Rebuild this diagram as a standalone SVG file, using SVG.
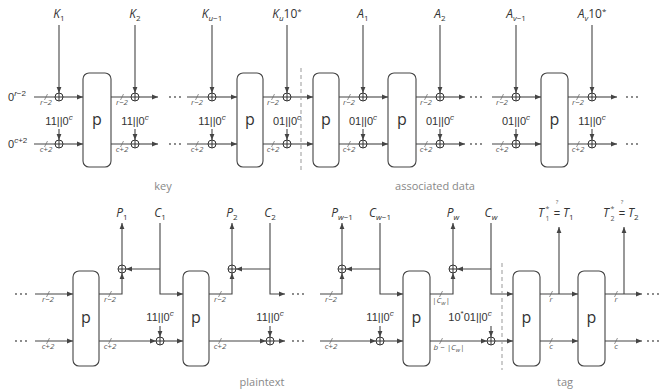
<svg xmlns="http://www.w3.org/2000/svg" xmlns:xlink="http://www.w3.org/1999/xlink" width="660" height="391" viewBox="0 0 660 391">
<style>
.ln{fill:none;stroke:#444;stroke-width:1.1}
.tk{fill:none;stroke:#666;stroke-width:0.7}
.dash{fill:none;stroke:#999;stroke-width:1;stroke-dasharray:4 3}
.box{fill:#fff;stroke:#444;stroke-width:1.1}
.v{font-family:"Open Sans","DejaVu Sans",sans-serif;font-style:italic;font-size:12px;fill:#333;text-anchor:middle}
.s{font-size:8px}
.n{font-style:normal}
.m{font-family:"Liberation Sans","DejaVu Sans",sans-serif;font-size:11px;fill:#333;text-anchor:middle}
.sm{font-family:"Open Sans","DejaVu Sans",sans-serif;font-style:italic;font-size:8px;fill:#555;text-anchor:middle}
.pt{font-family:"Open Sans","DejaVu Sans",sans-serif;font-size:16px;fill:#333;text-anchor:middle}
.cap{font-family:"Open Sans","DejaVu Sans",sans-serif;font-size:11px;fill:#888;text-anchor:middle}
.dots{fill:#555}
</style>
<defs>
<marker id="a" viewBox="0 0 6 6" refX="6" refY="3" markerWidth="6" markerHeight="6" orient="auto" markerUnits="userSpaceOnUse"><path d="M0,0.6L6,3L0,5.4z" fill="#444"/></marker>
<g id="xor"><circle r="4" fill="#fff" stroke="#333" stroke-width="1"/><path d="M-4,0H4M0,-4V4" stroke="#333" stroke-width="1"/></g>
<g id="el"><circle cx="-5" r="0.9"/><circle r="0.9"/><circle cx="5" r="0.9"/></g>
</defs>
<rect width="660" height="391" fill="#fff"/>

<g id="connectors">
<path class="ln" d="M34,97H55M111,97H131M187,97H208M263,97H283M339,97H359M416,97H436M492,97H512M568,97H588M34,144H55M111,144H131M187,144H208M263,144H283M339,144H359M416,144H436M492,144H512M568,144H588"/>
<g class="ln" marker-end="url(#a)">
<path d="M63,97H83"/><path d="M139,97H158"/><path d="M216,97H237"/><path d="M291,97H313"/><path d="M367,97H388"/><path d="M444,97H465"/><path d="M520,97H541"/><path d="M596,97H617"/>
<path d="M63,144H83"/><path d="M139,144H158"/><path d="M216,144H237"/><path d="M291,144H313"/><path d="M367,144H388"/><path d="M444,144H465"/><path d="M520,144H541"/><path d="M596,144H617"/>
<path d="M59,25V93"/><path d="M135,25V93"/><path d="M212,25V93"/><path d="M287,25V93"/><path d="M363,25V93"/><path d="M440,25V93"/><path d="M516,25V93"/><path d="M592,25V93"/>
<path d="M59,129V140"/><path d="M135,129V140"/><path d="M212,129V140"/><path d="M287,129V140"/><path d="M363,129V140"/><path d="M440,129V140"/><path d="M516,129V140"/><path d="M592,129V140"/>
</g>
<path class="tk" d="M44.5,100l3,-6M120.5,100l3,-6M195.5,100l3,-6M271.5,100l3,-6M347.5,100l3,-6M424.5,100l3,-6M500.5,100l3,-6M576.5,100l3,-6M44.5,147l3,-6M120.5,147l3,-6M195.5,147l3,-6M271.5,147l3,-6M347.5,147l3,-6M424.5,147l3,-6M500.5,147l3,-6M576.5,147l3,-6"/>
<path class="dash" d="M301,68V170"/>

<g class="ln" marker-end="url(#a)">
<path d="M35,294H73"/><path d="M35,341H73"/>
<path d="M99,294H122V273"/><path d="M122,265V223"/><path d="M160,223V294H183"/><path d="M160,269H126"/><path d="M99,341H156"/><path d="M164,341H183"/>
<path d="M209,294H232V273"/><path d="M232,265V223"/><path d="M270,223V294H285"/><path d="M270,269H236"/><path d="M209,341H266"/><path d="M274,341H285"/>
<path d="M320,294H342V273"/><path d="M342,265V223"/><path d="M380,223V294H403"/><path d="M380,269H346"/><path d="M320,341H376"/><path d="M384,341H403"/>
<path d="M430,294H453V273"/><path d="M453,265V223"/><path d="M491,223V294H513"/><path d="M491,269H457"/><path d="M430,341H487"/><path d="M495,341H513"/>
<path d="M540,294H578"/><path d="M540,341H578"/><path d="M559,294V227"/>
<path d="M605,294H642"/><path d="M605,341H642"/><path d="M624,294V227"/>
<path d="M160,326V337"/><path d="M270,326V337"/><path d="M380,326V337"/><path d="M491,326V337"/>
</g>
<path class="tk" d="M46.5,297l3,-6M108.5,297l3,-6M218.5,297l3,-6M329.5,297l3,-6M439.5,297l3,-6M549.5,297l3,-6M614.5,297l3,-6M46.5,344l3,-6M108.5,344l3,-6M218.5,344l3,-6M329.5,344l3,-6M439.5,344l3,-6M549.5,344l3,-6M614.5,344l3,-6"/>
<path class="dash" d="M502,263V370"/>
</g>

<g id="ellipses" class="dots">
<use xlink:href="#el" x="175" y="97"/><use xlink:href="#el" x="175" y="144"/>
<use xlink:href="#el" x="476" y="97"/><use xlink:href="#el" x="476" y="144"/>
<use xlink:href="#el" x="632" y="97"/><use xlink:href="#el" x="632" y="144"/>
<use xlink:href="#el" x="21" y="294"/><use xlink:href="#el" x="21" y="341"/>
<use xlink:href="#el" x="298" y="294"/><use xlink:href="#el" x="298" y="341"/>
<use xlink:href="#el" x="653" y="294"/><use xlink:href="#el" x="653" y="341"/>
</g>

<g id="p1"><rect class="box" x="83" y="73" width="28" height="94" rx="6"/><text class="pt" x="97" y="125">p</text></g>
<g id="p2"><rect class="box" x="237" y="73" width="26" height="94" rx="6"/><text class="pt" x="250" y="125">p</text></g>
<g id="p3"><rect class="box" x="313" y="73" width="26" height="94" rx="6"/><text class="pt" x="326" y="125">p</text></g>
<g id="p4"><rect class="box" x="388" y="73" width="28" height="94" rx="6"/><text class="pt" x="402" y="125">p</text></g>
<g id="p5"><rect class="box" x="541" y="73" width="27" height="94" rx="6"/><text class="pt" x="554.5" y="125">p</text></g>

<g id="xors-top">
<use xlink:href="#xor" x="59" y="97"/><use xlink:href="#xor" x="135" y="97"/><use xlink:href="#xor" x="212" y="97"/><use xlink:href="#xor" x="287" y="97"/><use xlink:href="#xor" x="363" y="97"/><use xlink:href="#xor" x="440" y="97"/><use xlink:href="#xor" x="516" y="97"/><use xlink:href="#xor" x="592" y="97"/>
<use xlink:href="#xor" x="59" y="144"/><use xlink:href="#xor" x="135" y="144"/><use xlink:href="#xor" x="212" y="144"/><use xlink:href="#xor" x="287" y="144"/><use xlink:href="#xor" x="363" y="144"/><use xlink:href="#xor" x="440" y="144"/><use xlink:href="#xor" x="516" y="144"/><use xlink:href="#xor" x="592" y="144"/>
</g>

<g id="labels-top">
<text class="m" x="8" y="101" style="text-anchor:start">0<tspan class="s" dy="-5" font-style="italic">r</tspan><tspan class="s">−2</tspan></text>
<text class="m" x="8" y="148" style="text-anchor:start">0<tspan class="s" dy="-5" font-style="italic">c</tspan><tspan class="s">+2</tspan></text>
<text class="v" x="59" y="18">K<tspan class="s n" dy="3">1</tspan></text>
<text class="v" x="135" y="18">K<tspan class="s n" dy="3">2</tspan></text>
<text class="v" x="212" y="18">K<tspan class="s" dy="3">u</tspan><tspan class="s n">−1</tspan></text>
<text class="v" x="287" y="18">K<tspan class="s" dy="3">u</tspan><tspan class="n" dy="-3">10</tspan><tspan class="s n" dy="-4">*</tspan></text>
<text class="v" x="363" y="18">A<tspan class="s n" dy="3">1</tspan></text>
<text class="v" x="440" y="18">A<tspan class="s n" dy="3">2</tspan></text>
<text class="v" x="516" y="18">A<tspan class="s" dy="3">v</tspan><tspan class="s n">−1</tspan></text>
<text class="v" x="592" y="18">A<tspan class="s" dy="3">v</tspan><tspan class="n" dy="-3">10</tspan><tspan class="s n" dy="-4">*</tspan></text>
<text class="m" x="59" y="125">11||0<tspan class="s" dy="-5" font-style="italic">c</tspan></text>
<text class="m" x="135" y="125">11||0<tspan class="s" dy="-5" font-style="italic">c</tspan></text>
<text class="m" x="212" y="125">11||0<tspan class="s" dy="-5" font-style="italic">c</tspan></text>
<text class="m" x="287" y="125">01||0<tspan class="s" dy="-5" font-style="italic">c</tspan></text>
<text class="m" x="363" y="125">01||0<tspan class="s" dy="-5" font-style="italic">c</tspan></text>
<text class="m" x="440" y="125">01||0<tspan class="s" dy="-5" font-style="italic">c</tspan></text>
<text class="m" x="516" y="125">01||0<tspan class="s" dy="-5" font-style="italic">c</tspan></text>
<text class="m" x="592" y="125">11||0<tspan class="s" dy="-5" font-style="italic">c</tspan></text>
<g class="sm">
<text x="46" y="105">r−2</text><text x="122" y="105">r−2</text><text x="197" y="105">r−2</text><text x="273" y="105">r−2</text><text x="349" y="105">r−2</text><text x="426" y="105">r−2</text><text x="502" y="105">r−2</text><text x="578" y="105">r−2</text>
<text x="46" y="152">c+2</text><text x="122" y="152">c+2</text><text x="197" y="152">c+2</text><text x="273" y="152">c+2</text><text x="349" y="152">c+2</text><text x="426" y="152">c+2</text><text x="502" y="152">c+2</text><text x="578" y="152">c+2</text>
</g>
<text class="cap" x="163" y="190">key</text>
<text class="cap" x="435" y="190">associated data</text>
</g>

<g id="p6"><rect class="box" x="73" y="271" width="26" height="95" rx="6"/><text class="pt" x="86" y="323">p</text></g>
<g id="p7"><rect class="box" x="183" y="271" width="26" height="95" rx="6"/><text class="pt" x="196" y="323">p</text></g>
<g id="p8"><rect class="box" x="403" y="271" width="27" height="95" rx="6"/><text class="pt" x="416.5" y="323">p</text></g>
<g id="p9"><rect class="box" x="513" y="271" width="27" height="95" rx="6"/><text class="pt" x="526.5" y="323">p</text></g>
<g id="p10"><rect class="box" x="578" y="271" width="27" height="95" rx="6"/><text class="pt" x="591.5" y="323">p</text></g>

<g id="xors-bottom">
<use xlink:href="#xor" x="122" y="269"/><use xlink:href="#xor" x="232" y="269"/><use xlink:href="#xor" x="342" y="269"/><use xlink:href="#xor" x="453" y="269"/>
<use xlink:href="#xor" x="160" y="341"/><use xlink:href="#xor" x="270" y="341"/><use xlink:href="#xor" x="380" y="341"/><use xlink:href="#xor" x="491" y="341"/>
</g>

<g id="labels-bottom">
<text class="v" x="122" y="217">P<tspan class="s n" dy="3">1</tspan></text>
<text class="v" x="160" y="217">C<tspan class="s n" dy="3">1</tspan></text>
<text class="v" x="232" y="217">P<tspan class="s n" dy="3">2</tspan></text>
<text class="v" x="270" y="217">C<tspan class="s n" dy="3">2</tspan></text>
<text class="v" x="342" y="217">P<tspan class="s" dy="3">w</tspan><tspan class="s n">−1</tspan></text>
<text class="v" x="380" y="217">C<tspan class="s" dy="3">w</tspan><tspan class="s n">−1</tspan></text>
<text class="v" x="453" y="217">P<tspan class="s" dy="3">w</tspan></text>
<text class="v" x="491" y="217">C<tspan class="s" dy="3">w</tspan></text>
<g id="t1">
<text class="v" x="538" y="217" style="text-anchor:start">T</text>
<text class="sm" x="547.5" y="221" style="font-style:normal;font-size:7px">1</text>
<text class="sm" x="547.5" y="211" style="font-style:normal;font-size:7px">*</text>
<text class="m" x="557" y="217">=</text>
<text class="sm" x="557" y="204" style="font-size:6px;font-style:normal">?</text>
<text class="v" x="563" y="217" style="text-anchor:start">T<tspan class="s n" dy="3">1</tspan></text>
</g>
<g id="t2">
<text class="v" x="603" y="217" style="text-anchor:start">T</text>
<text class="sm" x="612.5" y="221" style="font-style:normal;font-size:7px">2</text>
<text class="sm" x="612.5" y="211" style="font-style:normal;font-size:7px">*</text>
<text class="m" x="622" y="217">=</text>
<text class="sm" x="622" y="204" style="font-size:6px;font-style:normal">?</text>
<text class="v" x="628" y="217" style="text-anchor:start">T<tspan class="s n" dy="3">2</tspan></text>
</g>
<text class="m" x="160" y="321">11||0<tspan class="s" dy="-5" font-style="italic">c</tspan></text>
<text class="m" x="270" y="321">11||0<tspan class="s" dy="-5" font-style="italic">c</tspan></text>
<text class="m" x="380" y="321">11||0<tspan class="s" dy="-5" font-style="italic">c</tspan></text>
<text class="m" x="470" y="321">10<tspan class="s" dy="-5">*</tspan><tspan dy="5">01||0</tspan><tspan class="s" dy="-5" font-style="italic">c</tspan></text>
<g class="sm">
<text x="48" y="302">r−2</text><text x="110" y="302">r−2</text><text x="220" y="302">r−2</text><text x="331" y="302">r−2</text>
<text x="441" y="303">|C<tspan dy="2" font-size="6">w</tspan><tspan dy="-2">|</tspan></text>
<text x="551" y="302">r</text><text x="616" y="302">r</text>
<text x="48" y="349">c+2</text><text x="110" y="349">c+2</text><text x="220" y="349">c+2</text><text x="331" y="349">c+2</text>
<text x="449" y="350">b − |C<tspan dy="2" font-size="6">w</tspan><tspan dy="-2">|</tspan></text>
<text x="551" y="349">c</text><text x="616" y="349">c</text>
</g>
<text class="cap" x="262" y="386">plaintext</text>
<text class="cap" x="565" y="386">tag</text>
</g>
</svg>
